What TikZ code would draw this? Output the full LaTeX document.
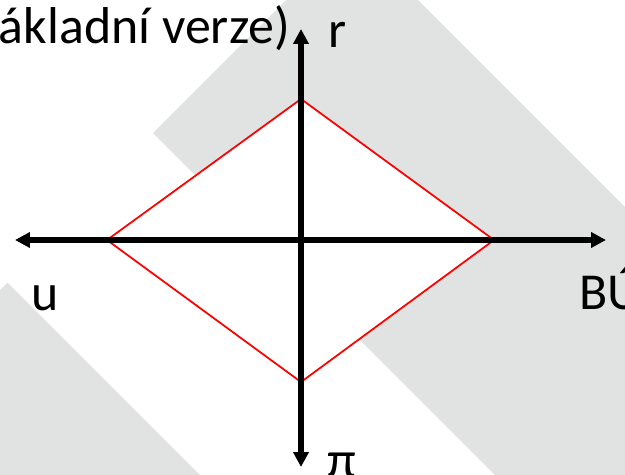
\documentclass[tikz,border=0pt]{standalone}
\usepackage{fontspec}
\setmainfont{Carlito}
\usetikzlibrary{arrows.meta}
\definecolor{bandgray}{RGB}{225,226,226}
\definecolor{rimred}{RGB}{255,0,0}

\begin{document}
\begin{tikzpicture}[x=0.04cm, y=-0.04cm, >={Triangle[length=17pt, width=17pt]},
  axis/.style={line width=6.5pt},
  rim/.style={draw=rimred, line width=2pt, fill=white},
  lab/.style={inner sep=0pt, font=\fontsize{59}{66}\selectfont}]
  \useasboundingbox (0,0) rectangle (625,475);
  % background stripes
  \begin{scope}
    \clip (0,0) rectangle (625,475);
    \fill[bandgray] (153,133) -- (352,-66) -- (998,580) -- (620,600) -- cycle;
    \fill[bandgray] (7.5,282.5) -- (300,575) -- (-100,575) -- (-100,390) -- cycle;
  \end{scope}
  % diamond
  \coordinate (L) at (107,240);
  \coordinate (T) at (301,99);
  \coordinate (R) at (494,240);
  \coordinate (B) at (301,382);
  \draw[rim] (L) -- (T) -- (R) -- (B) -- cycle;
  % axes
  \coordinate (W) at (15,240);
  \coordinate (E) at (606,240);
  \coordinate (N) at (301,29);
  \coordinate (S) at (301,467);
  \draw[axis, <->] (W) -- (E);
  \draw[axis, <->] (S) -- (N);
  % labels
  \node[lab, anchor=base east] (title) at (290,43) {ákladní verze)};
  \node[lab, anchor=base] (rlab) at (338,47) {r};
  \node[lab, anchor=base] (ulab) at (45,310) {u};
  \node[lab, anchor=base west] (bulab) at (579,309) {BÚ};
  \node[lab, anchor=base] (pilab) at (342,477) {π};
\end{tikzpicture}
\end{document}
